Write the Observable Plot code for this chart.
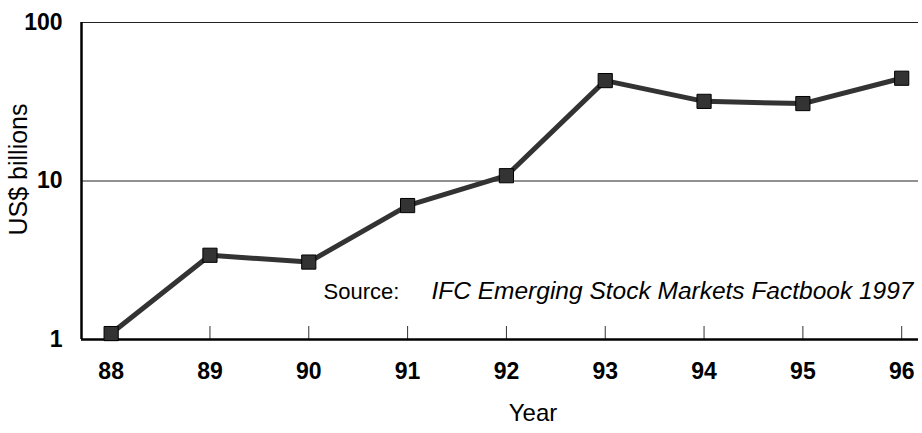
<!DOCTYPE html>
<html>
<head>
<meta charset="utf-8">
<script src="https://cdn.jsdelivr.net/npm/d3@7"></script>
<script src="https://cdn.jsdelivr.net/npm/@observablehq/plot@0.6"></script>
<style>
  html, body { margin: 0; padding: 0; background: #fff; }
  svg { display: block; }
</style>
</head>
<body>
<div id="chart"></div>
<script>
const years = [88, 89, 90, 91, 92, 93, 94, 95, 96];
const values = [1.09, 3.4, 3.08, 7.0, 10.8, 43, 31.8, 30.8, 44.5];
const yTicks = [1, 10, 100];
const gridValues = [10, 100];
const sourceLabel = "Source:";
const sourceTitle = "IFC Emerging Stock Markets Factbook 1997";

const data = years.map((year, i) => ({ year, value: values[i] }));
const font = "'Liberation Sans', Arial, Helvetica, sans-serif";

const chart = Plot.plot({
  width: 922,
  height: 433,
  marginLeft: 81,
  marginRight: 4,
  marginTop: 22,
  marginBottom: 94,
  style: { fontFamily: font, background: "#fff", color: "#000" },
  x: { domain: [87.7, 96.17], axis: null },
  y: { type: "log", domain: [1, 100], axis: null },
  marks: [
    Plot.ruleY(gridValues, { stroke: "#222", strokeWidth: 1.2 }),
    Plot.axisX(years, { anchor: "bottom", label: null, tickSize: -13, text: null, stroke: "#333", strokeWidth: 1 }),
    Plot.axisX(years, { anchor: "bottom", label: null, tickSize: 0, tickPadding: 23, tickFormat: d => String(d), fontSize: 23, fontWeight: "bold", fill: "#000" }),
    Plot.axisY(yTicks, { anchor: "left", label: null, tickSize: 0, tickPadding: 19, tickFormat: d => String(d), fontSize: 23, fontWeight: "bold", fill: "#000" }),
    Plot.ruleY([1], { stroke: "#000", strokeWidth: 2.5 }),
    Plot.ruleX([87.7], { stroke: "#000", strokeWidth: 2.5 }),
    Plot.line(data, { x: "year", y: "value", stroke: "#333", strokeWidth: 5, strokeLinejoin: "round" }),
    Plot.dot(data, { x: "year", y: "value", symbol: "square", r: 8, fill: "#333", stroke: "#000", strokeWidth: 1 }),
    Plot.text([sourceTitle], { frameAnchor: "bottom-right", dx: -5, dy: -41, textAnchor: "end", fontSize: 24.5, fontStyle: "italic", fill: "#000" }),
    Plot.text([sourceLabel], { frameAnchor: "bottom-left", dx: 242, dy: -41, textAnchor: "start", fontSize: 22, fill: "#000" }),
    Plot.text(["US$ billions"], { frameAnchor: "left", dx: -63, dy: -11.5, rotate: -90, textAnchor: "middle", fontSize: 25, fill: "#000" }),
    Plot.text(["Year"], { frameAnchor: "bottom", dx: 33, dy: 81, textAnchor: "middle", fontSize: 24, fill: "#000" })
  ]
});
document.getElementById("chart").appendChild(chart);
</script>
</body>
</html>
